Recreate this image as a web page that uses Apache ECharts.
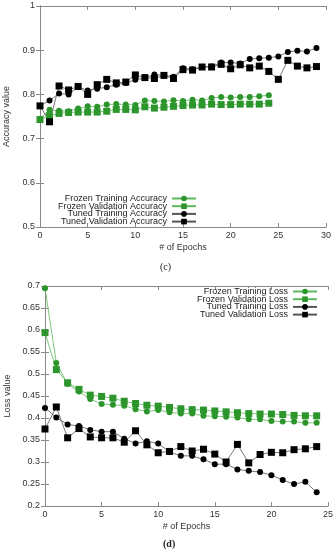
<!DOCTYPE html>
<html>
<head>
<meta charset="utf-8">
<script src="https://cdn.jsdelivr.net/npm/echarts@6/dist/echarts.min.js"></script>
<style>
html,body{margin:0;padding:0;background:#fff;}
#c{width:334px;height:550px;}
</style>
</head>
<body>
<div id="c"></div>
<script>
// ---- Chart (c): accuracy ----
var accEpochs = [0,1,2,3,4,5,6,7,8,9,10,11,12,13,14,15,16,17,18,19,20,21,22,23,24,25,26,27,28,29];
var frozenTrainAcc = [0.745,0.765,0.763,0.762,0.768,0.773,0.772,0.777,0.778,0.777,0.776,0.786,0.785,0.784,0.787,0.785,0.788,0.786,0.792,0.794,0.793,0.794,0.794,0.796,0.798];
var frozenValAcc   = [0.743,0.752,0.757,0.759,0.760,0.760,0.760,0.762,0.766,0.766,0.765,0.772,0.769,0.771,0.773,0.775,0.776,0.776,0.778,0.777,0.777,0.778,0.778,0.778,0.780];
var tunedTrainAcc  = [0.774,0.786,0.802,0.800,0.817,0.809,0.813,0.816,0.822,0.826,0.833,0.837,0.845,0.843,0.840,0.859,0.857,0.862,0.863,0.872,0.872,0.870,0.880,0.882,0.883,0.886,0.896,0.899,0.897,0.905];
var tunedValAcc    = [0.774,0.738,0.819,0.810,0.818,0.800,0.822,0.834,0.826,0.828,0.844,0.838,0.836,0.843,0.836,0.856,0.855,0.862,0.862,0.868,0.858,0.867,0.860,0.864,0.852,0.834,0.877,0.864,0.860,0.863];
var accXTicks = {min:0, max:30, interval:5};
var accYTicks = {min:0.5, max:1, interval:0.1};

// ---- Chart (d): loss ----
var lossEpochs = [0,1,2,3,4,5,6,7,8,9,10,11,12,13,14,15,16,17,18,19,20,21,22,23,24];
var frozenTrainLoss = [0.695,0.525,0.477,0.460,0.443,0.432,0.430,0.428,0.420,0.415,0.418,0.413,0.410,0.410,0.405,0.404,0.403,0.401,0.397,0.397,0.393,0.392,0.392,0.389,0.389];
var frozenValLoss   = [0.594,0.510,0.480,0.465,0.452,0.449,0.445,0.438,0.433,0.429,0.427,0.424,0.421,0.419,0.418,0.416,0.414,0.412,0.410,0.409,0.409,0.408,0.406,0.405,0.405];
var tunedTrainLoss  = [0.423,0.401,0.385,0.382,0.373,0.369,0.369,0.353,0.342,0.347,0.342,0.323,0.314,0.314,0.306,0.295,0.295,0.283,0.280,0.277,0.270,0.259,0.250,0.255,0.231];
var tunedValLoss    = [0.375,0.425,0.355,0.376,0.357,0.355,0.355,0.345,0.371,0.339,0.321,0.324,0.335,0.325,0.329,0.318,0.300,0.340,0.298,0.317,0.322,0.321,0.328,0.330,0.335];
var lossXTicks = {min:0, max:25, interval:5};
var lossYTicks = {min:0.2, max:0.7, interval:0.05};

var accNames = ['Frozen Training Accuracy','Frozen Validation Accuracy','Tuned Training Accuracy','Tuned Validation Accuracy'];
var lossNames = ['Frozen Training Loss','Frozen Validation Loss','Tuned Training Loss','Tuned Validation Loss'];

var GREEN = '#2c962c', GREENLINE = '#5cb85c', BLACK = '#000', GRAYLINE = '#555';
var FONT = 'Liberation Sans';
var AXC = '#888';

function pairs(xs, ys){ return ys.map(function(v,i){ return [xs[i], v]; }); }

function mainX(grid, t, name, gap){
  return {type:'value', gridIndex:grid, min:t.min, max:t.max, interval:t.interval, position:'bottom',
    name:name, nameLocation:'middle', nameGap:gap, nameTextStyle:{fontFamily:FONT,fontSize:9,color:'#333'},
    axisLine:{lineStyle:{color:AXC,width:1}}, axisTick:{inside:true,length:4,lineStyle:{color:AXC}},
    axisLabel:{fontFamily:FONT,fontSize:9,color:'#333',margin:4}, splitLine:{show:false}};
}
function mirrorX(grid, t){
  return {type:'value', gridIndex:grid, min:t.min, max:t.max, interval:t.interval, position:'top',
    axisLine:{lineStyle:{color:AXC,width:1}}, axisTick:{inside:true,length:4,lineStyle:{color:AXC}},
    axisLabel:{show:false}, splitLine:{show:false}};
}
function mainY(grid, t, name, gap){
  return {type:'value', gridIndex:grid, min:t.min, max:t.max, interval:t.interval, position:'left',
    name:name, nameLocation:'middle', nameGap:gap, nameRotate:90,
    nameTextStyle:{fontFamily:FONT,fontSize:9,color:'#333'},
    axisLine:{show:true,lineStyle:{color:AXC,width:1}}, axisTick:{show:true,inside:true,length:4,lineStyle:{color:AXC}},
    axisLabel:{fontFamily:FONT,fontSize:9,color:'#333',margin:5,
      formatter:function(v){ return String(+v.toFixed(2)); }}, splitLine:{show:false}};
}
function mirrorY(grid, t){
  return {type:'value', gridIndex:grid, min:t.min, max:t.max, interval:t.interval, position:'right',
    axisLine:{show:true,lineStyle:{color:AXC,width:1}}, axisTick:{show:true,inside:true,length:4,lineStyle:{color:AXC}},
    axisLabel:{show:false}, splitLine:{show:false}};
}
function ser(name, data, xi, yi, green, symbol, size){
  return {name:name, type:'line', xAxisIndex:xi, yAxisIndex:yi, data:data,
    symbol:symbol, symbolSize:size, showSymbol:true, animation:false,
    lineStyle:{color: green ? GREENLINE : GRAYLINE, width:0.8},
    itemStyle:{color: green ? GREEN : BLACK, borderWidth:0}};
}

var chart = echarts.init(document.getElementById('c'), null, {renderer:'canvas'});
var option = {
  animation:false,
  textStyle:{fontFamily:FONT},
  grid:[
    {left:40, right:8, top:6, height:221, containLabel:false, outerBoundsMode:'none'},
    {left:45, right:6, top:286, height:220, containLabel:false, outerBoundsMode:'none'}
  ],
  xAxis:[ mainX(0, accXTicks, '# of Epochs', 16), mirrorX(0, accXTicks),
          mainX(1, lossXTicks, '# of Epochs', 16), mirrorX(1, lossXTicks) ],
  yAxis:[ mainY(0, accYTicks, 'Accuracy value', 29), mirrorY(0, accYTicks),
          mainY(1, lossYTicks, 'Loss value', 33), mirrorY(1, lossYTicks) ],
  legend:[
    {data:accNames, orient:'vertical', align:'right', right:137, top:194, itemWidth:24, itemHeight:7, itemGap:-1.3,
     textStyle:{fontFamily:FONT,fontSize:9,color:'#222',lineHeight:7, padding:0}, padding:0, selectedMode:false},
    {data:lossNames, orient:'vertical', align:'right', right:16, top:287, itemWidth:24, itemHeight:7, itemGap:-1.3,
     textStyle:{fontFamily:FONT,fontSize:9,color:'#222',lineHeight:7, padding:0}, padding:0, selectedMode:false}
  ],
  graphic:[
    {type:'text', left:160, top:262, style:{text:'(c)', font:'10px "Liberation Serif"', fill:'#222'}},
    {type:'text', left:163, top:539, style:{text:'(d)', font:'bold 10px "Liberation Serif"', fill:'#222'}}
  ],
  series:[
    ser(accNames[0], pairs(accEpochs, frozenTrainAcc), 0, 0, true, 'circle', 6),
    ser(accNames[1], pairs(accEpochs, frozenValAcc), 0, 0, true, 'rect', 7),
    ser(accNames[2], pairs(accEpochs, tunedTrainAcc), 0, 0, false, 'circle', 6),
    ser(accNames[3], pairs(accEpochs, tunedValAcc), 0, 0, false, 'rect', 7),
    ser(lossNames[0], pairs(lossEpochs, frozenTrainLoss), 2, 2, true, 'circle', 6),
    ser(lossNames[1], pairs(lossEpochs, frozenValLoss), 2, 2, true, 'rect', 7),
    ser(lossNames[2], pairs(lossEpochs, tunedTrainLoss), 2, 2, false, 'circle', 6),
    ser(lossNames[3], pairs(lossEpochs, tunedValLoss), 2, 2, false, 'rect', 7)
  ]
};
chart.setOption(option);
</script>
</body>
</html>
